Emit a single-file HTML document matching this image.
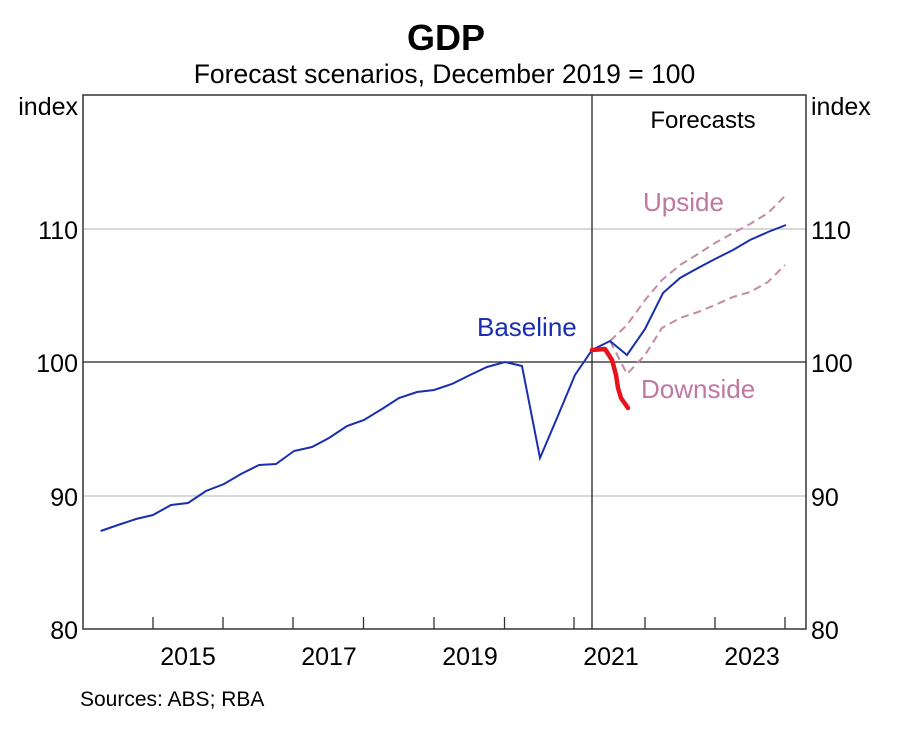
<!DOCTYPE html>
<html><head><meta charset="utf-8"><style>body{margin:0;background:#fff}svg{display:block}</style></head>
<body>
<svg width="898" height="732" xmlns="http://www.w3.org/2000/svg" font-family="Liberation Sans, Arial, sans-serif">
<text x="446" y="50" text-anchor="middle" font-size="36" font-weight="bold">GDP</text>
<text x="444.5" y="83" text-anchor="middle" font-size="26.5">Forecast scenarios, December 2019 = 100</text>
<line x1="83" y1="229" x2="806" y2="229" stroke="#c0c0c0" stroke-width="1.3"/>
<line x1="83" y1="496" x2="806" y2="496" stroke="#c0c0c0" stroke-width="1.3"/>
<line x1="83" y1="362" x2="806" y2="362" stroke="#222" stroke-width="1.3"/>
<line x1="592" y1="95" x2="592" y2="629" stroke="#222" stroke-width="1.3"/>
<rect x="83" y="95" width="723" height="534" fill="none" stroke="#333" stroke-width="1.5"/>
<g stroke="#333" stroke-width="1.3">
<line x1="153" y1="629" x2="153" y2="617"/><line x1="223" y1="629" x2="223" y2="617"/><line x1="293" y1="629" x2="293" y2="617"/><line x1="363.5" y1="629" x2="363.5" y2="617"/><line x1="434" y1="629" x2="434" y2="617"/><line x1="504.5" y1="629" x2="504.5" y2="617"/><line x1="574" y1="629" x2="574" y2="617"/><line x1="645" y1="629" x2="645" y2="617"/><line x1="715" y1="629" x2="715" y2="617"/><line x1="785" y1="629" x2="785" y2="617"/>
</g>
<g font-size="25" text-anchor="middle">
<text x="188" y="665">2015</text><text x="329" y="665">2017</text><text x="470" y="665">2019</text><text x="611" y="665">2021</text><text x="752" y="665">2023</text>
</g>
<g font-size="25" text-anchor="end">
<text x="78" y="239">110</text><text x="78" y="372">100</text><text x="78" y="506">90</text><text x="78" y="639">80</text>
<text x="78" y="115">index</text>
</g>
<g font-size="25" text-anchor="start">
<text x="811" y="239">110</text><text x="811" y="372">100</text><text x="811" y="506">90</text><text x="811" y="639">80</text>
<text x="811" y="115">index</text>
</g>
<text x="703" y="128" font-size="24" text-anchor="middle">Forecasts</text>
<text x="643" y="211" font-size="26" fill="#c0789f">Upside</text>
<text x="641" y="398" font-size="26" fill="#c0789f">Downside</text>
<text x="477" y="336" font-size="26" fill="#1a2fb0">Baseline</text>
<polyline fill="none" stroke="#c48aa6" stroke-width="2" stroke-dasharray="8,5" points="610,341 627,325 645,300 662,280 680,265 698,254 715,243 733,233 750,224 768,213 785,196"/>
<polyline fill="none" stroke="#c48aa6" stroke-width="2" stroke-dasharray="8,5" points="610,341 627,374 645,355 662,328 680,318 698,312 715,305 733,297 750,292 768,282 785,265"/>
<polyline fill="none" stroke="#1a2fb0" stroke-width="2" points="100.6,531 118,525 136,519 153,515 171,505 188,503 206,491 224,484 241,474 259,465 276,464 294,451 312,447 329,438 347,426 364,420 382,409 399,398 417,392 434,390 452,384 470,375 487,367 505,362 522,366 540,458 557,418 575,375 592,350 610,341 627,355 645,329 663,293 680,278 698,268 715,259 733,250 750,240 768,232 786,225"/>
<polyline fill="none" stroke="#e8141c" stroke-width="4.5" stroke-linejoin="round" stroke-linecap="round" points="592,350 605,349 612,360 616,375 618,388 621,398 628,408"/>
<text x="80" y="706" font-size="21">Sources: ABS; RBA</text>
</svg>
</body></html>
